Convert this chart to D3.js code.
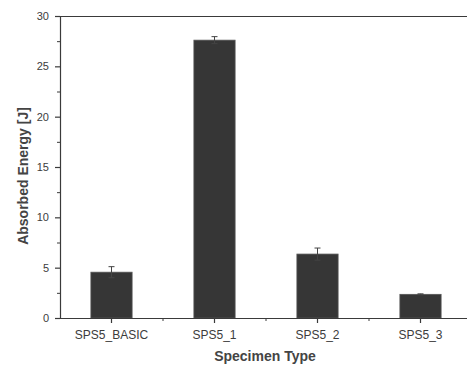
<!DOCTYPE html>
<html><head><meta charset="utf-8">
<script src="https://cdn.jsdelivr.net/npm/d3@7"></script>
<style>
html,body{margin:0;padding:0;background:#fff;}
svg{display:block;font-family:"Liberation Sans",Arial,sans-serif;}
</style></head>
<body><svg id="c" width="467" height="367"></svg>
<script>
const categories = ["SPS5_BASIC","SPS5_1","SPS5_2","SPS5_3"];
const values = [4.55, 27.6, 6.35, 2.35];
const errors = [0.55, 0.35, 0.6, 0.05];
const yTicks = [0,5,10,15,20,25,30];
const yMinorTicks = [2.5,7.5,12.5,17.5,22.5,27.5];
const xTitle = "Specimen Type";
const yTitle = "Absorbed Energy [J]";

(function(){
const svg = d3.select("#c");
const mLeft = 60, mRight = 472, mTop = 16, mBottom = 318;
const axisColor = "#3a3a3a", textColor = "#3c3c3c";

const x = d3.scaleBand().domain(categories).range([mLeft, mRight]).paddingInner(0.6).paddingOuter(0.3);
const y = d3.scaleLinear().domain([0,30]).range([mBottom, mTop]);

// bars
svg.append("g").selectAll("rect").data(values).join("rect")
  .attr("x", (d,i)=>x(categories[i]))
  .attr("y", d=>y(d))
  .attr("width", x.bandwidth())
  .attr("height", d=>y(0)-y(d))
  .attr("fill","#363636")
  .attr("stroke","#555").attr("stroke-width",0.8);

// error bars
const eg = svg.append("g").attr("stroke","#444").attr("stroke-width",1);
values.forEach((v,i)=>{
  const cx = x(categories[i]) + x.bandwidth()/2;
  eg.append("line").attr("x1",cx).attr("x2",cx).attr("y1",y(v-errors[i])).attr("y2",y(v+errors[i]));
  eg.append("line").attr("x1",cx-3).attr("x2",cx+3).attr("y1",y(v+errors[i])).attr("y2",y(v+errors[i]));
  eg.append("line").attr("x1",cx-3).attr("x2",cx+3).attr("y1",y(v-errors[i])).attr("y2",y(v-errors[i]));
});

// top frame
svg.append("line").attr("x1",mLeft).attr("x2",467).attr("y1",y(30)+0.5).attr("y2",y(30)+0.5)
  .attr("stroke",axisColor).attr("stroke-width",1.2);

// y axis
const ya = svg.append("g").attr("transform",`translate(${mLeft},0)`)
  .call(d3.axisLeft(y).tickValues(yTicks).tickSize(5).tickPadding(6).tickFormat(d3.format("d")));
ya.selectAll("text").attr("font-size",11).attr("fill",textColor).attr("font-family","Liberation Sans, Arial, sans-serif");
ya.selectAll("line, path").attr("stroke",axisColor).attr("stroke-width",1.2);
const yam = svg.append("g").attr("transform",`translate(${mLeft},0)`)
  .call(d3.axisLeft(y).tickValues(yMinorTicks).tickSize(3).tickFormat(""));
yam.select("path").remove();
yam.selectAll("line").attr("stroke",axisColor);

// x axis
const xa = svg.append("g").attr("transform",`translate(0,${mBottom})`)
  .call(d3.axisBottom(x).tickSize(5).tickPadding(7).tickSizeOuter(0));
xa.selectAll("text").attr("font-size",12).attr("fill",textColor).attr("font-family","Liberation Sans, Arial, sans-serif");
xa.selectAll("line, path").attr("stroke",axisColor).attr("stroke-width",1.2);
// minor x ticks at category boundaries
const bounds = categories.slice(1).map(c => x(c) - x.step()*x.paddingInner()/2);
svg.append("g").selectAll("line").data(bounds).join("line")
  .attr("x1",d=>d).attr("x2",d=>d).attr("y1",mBottom).attr("y2",mBottom+3)
  .attr("stroke",axisColor).attr("stroke-width",1);

// titles
svg.append("text").attr("x",265).attr("y",361).attr("text-anchor","middle")
  .attr("font-size",14).attr("font-weight","bold").attr("fill","#444").text(xTitle);
svg.append("text").attr("transform","translate(28,176) rotate(-90)").attr("text-anchor","middle")
  .attr("font-size",14).attr("font-weight","bold").attr("fill","#444").text(yTitle);
})();
</script></body></html>
